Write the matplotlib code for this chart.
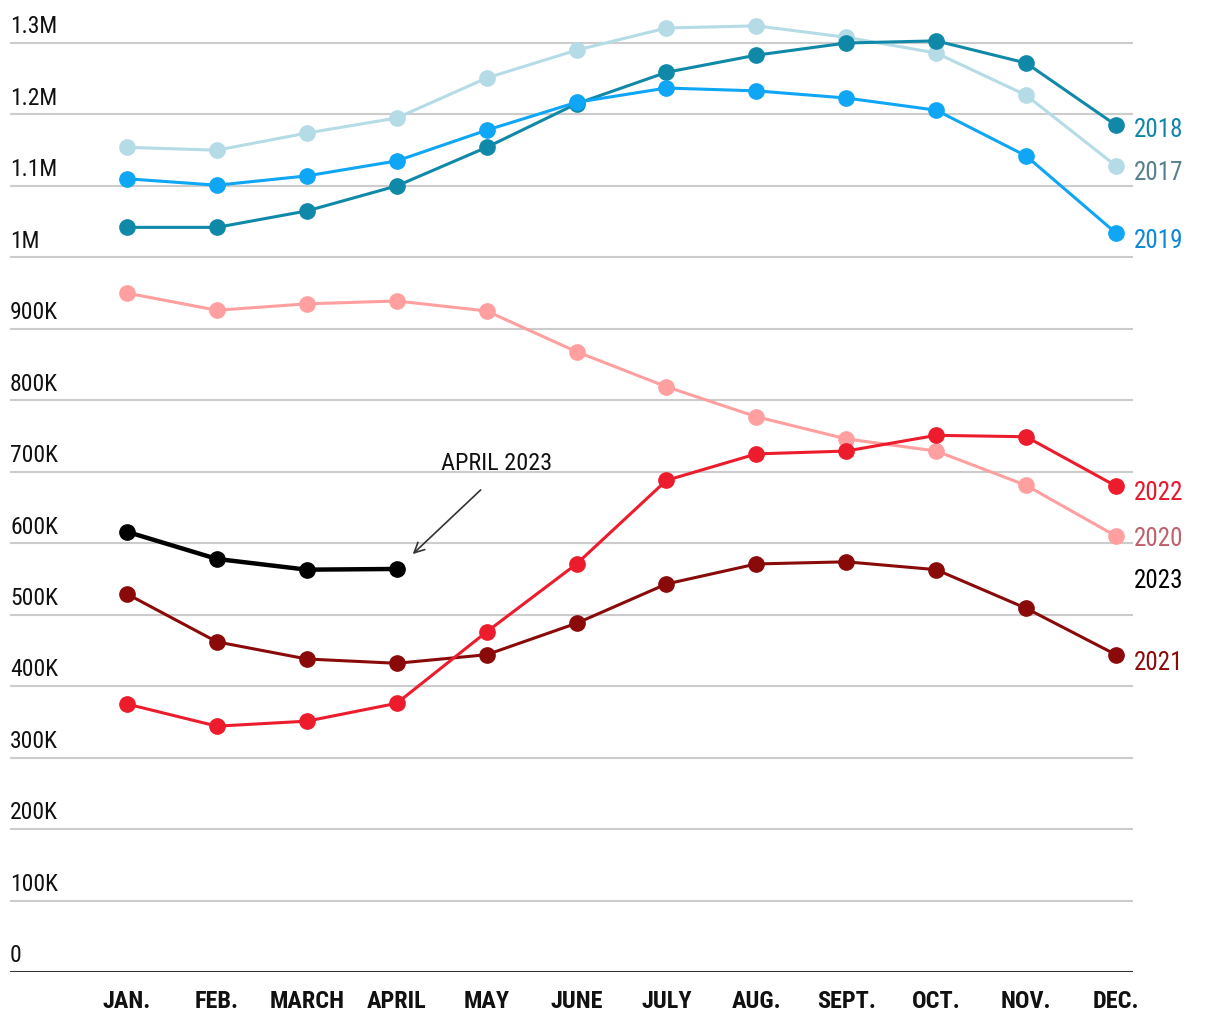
import matplotlib
matplotlib.use("Agg")
import matplotlib.pyplot as plt
from matplotlib import font_manager as fm
import matplotlib.transforms as mtransforms

months = ["JAN.", "FEB.", "MARCH", "APRIL", "MAY", "JUNE", "JULY", "AUG.", "SEPT.", "OCT.", "NOV.", "DEC."]

y2017 = [1154, 1150, 1174, 1195, 1251, 1290, 1321, 1324, 1308, 1286, 1227, 1128]
y2018 = [1042, 1042, 1065, 1100, 1154, 1215, 1259, 1283, 1300, 1303, 1272, 1185]
y2019 = [1110, 1101, 1114, 1135, 1178, 1217, 1237, 1233, 1223, 1206, 1142, 1034]
y2020 = [950, 926, 935, 939, 925, 868, 819, 777, 746, 729, 681, 610]
y2021 = [529, 462, 438, 432, 444, 488, 543, 571, 574, 563, 509, 444]
y2022 = [375, 344, 351, 376, 476, 571, 688, 725, 729, 751, 749, 680]
y2023 = [616, 578, 563, 564]

tick_vals = [0, 100, 200, 300, 400, 500, 600, 700, 800, 900, 1000, 1100, 1200, 1300]
tick_labels = ["0", "100K", "200K", "300K", "400K", "500K", "600K", "700K", "800K", "900K", "1M", "1.1M", "1.2M", "1.3M"]

names = set(f.name for f in fm.fontManager.ttflist)
cands = ["Liberation Sans Narrow", "Roboto Condensed", "Roboto", "DejaVu Sans"]
fam = [c for c in cands if c in names] + ["DejaVu Sans"]
plt.rcParams["font.family"] = fam

W, H = 1220, 1020
fig = plt.figure(figsize=(W / 100, H / 100), dpi=100)
# axes in pixel coordinates
ax_left, ax_right = 10, 1133
ax_top, ax_bottom = 22, 973
ax = fig.add_axes([ax_left / W, 1 - ax_bottom / H, (ax_right - ax_left) / W, (ax_bottom - ax_top) / H])
px_per_month = (1116 - 127) / 11
x0 = -(127 - ax_left) / px_per_month
x1 = 11 + (ax_right - 1116) / px_per_month
ax.set_xlim(x0, x1)
px_per_k = (971 - 42) / 1300
ax.set_ylim(0, (ax_bottom - ax_top) / px_per_k)
ax.axis("off")

for v in tick_vals[1:]:
    ax.axhline(v, color="#cccccc", lw=1.5, zorder=1)
ax.axhline(0, color="#333333", lw=2.2, zorder=1)

blend = mtransforms.blended_transform_factory(ax.transAxes, ax.transData)
for v, lab in zip(tick_vals, tick_labels):
    ax.text(0, v + 8, lab, transform=blend, ha="left", va="bottom", fontsize=17, color="#111111")

xs = list(range(12))
series = [
    (y2017, "#b5dbe7", 2.2),
    (y2018, "#1089a9", 2.2),
    (y2019, "#0ea6f5", 2.2),
    (y2020, "#ff9f9f", 2.2),
    (y2021, "#8a0a0a", 2.2),
    (y2022, "#ec1c2d", 2.2),
]
for vals, col, lw in series:
    ax.plot(xs[:len(vals)], vals, color=col, lw=lw, marker="o", markersize=11, zorder=3, clip_on=False)
ax.plot(xs[:len(y2023)], y2023, color="#000000", lw=3.2, marker="o", markersize=11, zorder=4, clip_on=False)

labels = [
    ("2018", 1180, "#0f86a8"),
    ("2017", 1120, "#56808c"),
    ("2019", 1024, "#0a88d4"),
    ("2022", 672, "#e8142a"),
    ("2020", 607, "#c0606a"),
    ("2023", 549, "#000000"),
    ("2021", 434, "#8a0a0a"),
]
lx = 11 + (1134 - 1116) / px_per_month
for t, v, c in labels:
    ax.text(lx, v, t, ha="left", va="center", fontsize=18, color=c)

for i, m in enumerate(months):
    ax.text(i, -40, m, ha="center", va="center", fontsize=17.5, fontweight="bold", color="#111111")

# annotation
ax.annotate("", xy=(3 + (411 - 397) / px_per_month, (971 - 555) / px_per_k),
            xytext=(3 + (483 - 397) / px_per_month, (971 - 487) / px_per_k),
            arrowprops=dict(arrowstyle="->", color="#333333", lw=1.2, mutation_scale=18))
ax.text(3 + (497 - 397) / px_per_month, (971 - 462) / px_per_k, "APRIL 2023",
        ha="center", va="center", fontsize=17.5, color="#111111")

fig.savefig("out.png", dpi=100)
